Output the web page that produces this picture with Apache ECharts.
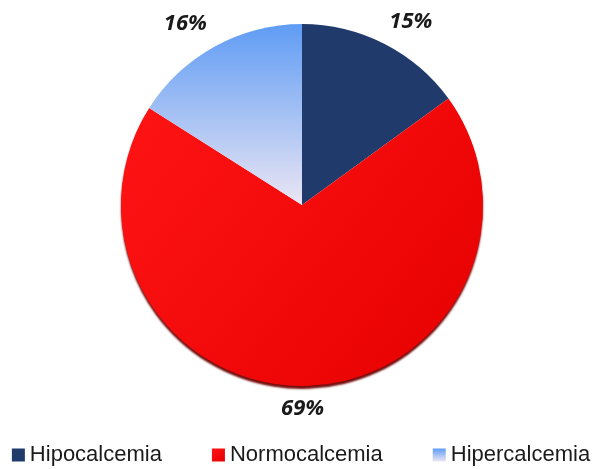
<!DOCTYPE html>
<html>
<head>
<meta charset="utf-8">
<script src="https://cdn.jsdelivr.net/npm/echarts@6/dist/echarts.min.js"></script>
<style>
  html, body { margin: 0; padding: 0; background: #fff; }
  #chart { width: 602px; height: 469px; }
</style>
</head>
<body>
<div id="chart"></div>
<script>
// Calcium status distribution
const categories = ['Hipocalcemia', 'Normocalcemia', 'Hipercalcemia'];
const values = [15, 69, 16];

// small nudges for the percentage labels around the rim
const labelNudges = [[8, 5], [-11, -7], [-10, 4]];

const sliceStyles = [
  { color: '#203a6c' },
  {
    color: new echarts.graphic.LinearGradient(0, 0, 1, 1, [
      { offset: 0, color: '#ff1414' },
      { offset: 1, color: '#e60000' }
    ]),
    shadowColor: 'rgba(110, 0, 0, 0.95)',
    shadowBlur: 2,
    shadowOffsetY: 3
  },
  {
    color: new echarts.graphic.LinearGradient(0, 0, 0, 1, [
      { offset: 0, color: '#5f9cf4' },
      { offset: 1, color: '#ebe6f4' }
    ])
  }
];

const legendColors = ['#203a6c', '#ff0000', '#7fb0f6'];

const chart = echarts.init(document.getElementById('chart'), null, { renderer: 'canvas' });

chart.setOption({
  animation: false,
  backgroundColor: '#ffffff',
  color: legendColors,
  legend: {
    bottom: -2,
    left: 'center',
    icon: 'rect',
    itemWidth: 13,
    itemHeight: 13,
    itemGap: 50,
    textStyle: {
      fontFamily: 'Liberation Sans, Arial, sans-serif',
      fontSize: 22,
      color: '#1a1a1a'
    },
    data: categories
  },
  series: [{
    type: 'pie',
    center: [302, 205],
    radius: 181,
    startAngle: 90,
    clockwise: true,
    label: {
      show: true,
      position: 'outside',
      formatter: '{c}%',
      fontFamily: 'Open Sans, Liberation Sans, sans-serif',
      fontSize: 22,
      fontWeight: 'bold',
      fontStyle: 'italic',
      color: '#1a1a1a'
    },
    labelLine: { show: false, length: 30, length2: 0 },
    labelLayout: function (params) {
      const n = labelNudges[params.dataIndex];
      return { align: 'center', verticalAlign: 'middle', dx: n[0], dy: n[1] };
    },
    data: categories.map((name, i) => ({
      name: name,
      value: values[i],
      itemStyle: sliceStyles[i]
    }))
  }]
});
</script>
</body>
</html>
